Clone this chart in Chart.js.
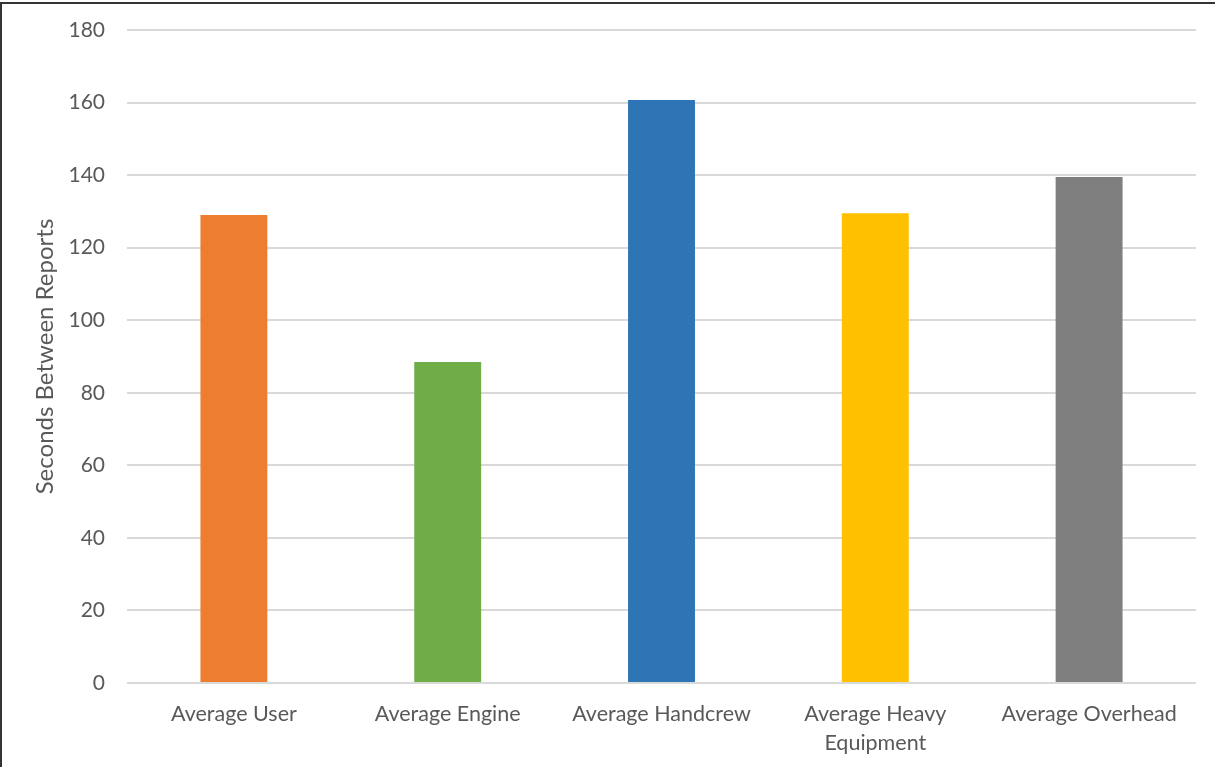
<!DOCTYPE html>
<html>
<head>
<meta charset="utf-8">
<script src="https://cdn.jsdelivr.net/npm/chart.js@4"></script>
<style>
  html, body { margin: 0; padding: 0; background: #fff; }
  #wrap { position: relative; width: 1215px; height: 767px; overflow: hidden; }
  #frame { position: absolute; left: 0; top: 2px; width: 1230px; height: 780px;
           border-left: 2px solid #333; border-top: 2px solid #333; box-sizing: border-box; }
  canvas { position: absolute; left: 0; top: 0; }
</style>
</head>
<body>
<div id="wrap">
  <div id="frame"></div>
  <canvas id="reportChart" width="1215" height="767"></canvas>
</div>

<script>
// categories and values
const categories = ['Average User', 'Average Engine', 'Average Handcrew', ['Average Heavy', 'Equipment'], 'Average Overhead'];
const secondsBetweenReports = [129, 88.5, 160.7, 129.5, 139.5];
const barColors = ['#ED7D31', '#70AD47', '#2E75B6', '#FFC000', '#7F7F7F'];
const yTicks = [0, 20, 40, 60, 80, 100, 120, 140, 160, 180];

const textColor = '#595959';
const fontFamily = 'Lato, "Open Sans", sans-serif';

const ctx = document.getElementById('reportChart').getContext('2d');

new Chart(ctx, {
    type: 'bar',
    data: {
        labels: categories,
        datasets: [{
            label: 'Seconds Between Reports',
            data: secondsBetweenReports,
            backgroundColor: barColors,
            borderWidth: 0,
            barPercentage: 0.313,
            categoryPercentage: 1
        }]
    },
    options: {
        responsive: false,
        animation: false,
        layout: { padding: { top: 30, right: 19, bottom: 0, left: 0 } },
        scales: {
            x: {
                grid: { display: false, drawTicks: false },
                border: { display: false },
                ticks: {
                    color: textColor,
                    font: { family: fontFamily, size: 21.5, lineHeight: 1.36 },
                    padding: 16,
                    maxRotation: 0,
                    autoSkip: false
                },
                afterFit: function(scale) { scale.height = 84; }
            },
            y: {
                min: 0,
                max: 180,
                afterBuildTicks: function(scale) {
                    scale.ticks = yTicks.map(v => ({ value: v }));
                },
                grid: { color: '#D9D9D9', lineWidth: 2, drawTicks: false },
                border: { display: false },
                ticks: {
                    color: textColor,
                    font: { family: fontFamily, size: 21 },
                    padding: 22
                },
                title: {
                    display: true,
                    text: 'Seconds Between Reports',
                    color: textColor,
                    font: { family: fontFamily, size: 24 },
                    padding: { top: 31, bottom: 0 }
                },
                afterFit: function(scale) {
                    scale.width = 127;
                    // the tick padding otherwise pushes the plot area down
                    scale.paddingTop = 0;
                    scale.paddingBottom = 0;
                }
            }
        },
        plugins: {
            legend: { display: false },
            tooltip: { enabled: false }
        }
    }
});
</script>
</body>
</html>
